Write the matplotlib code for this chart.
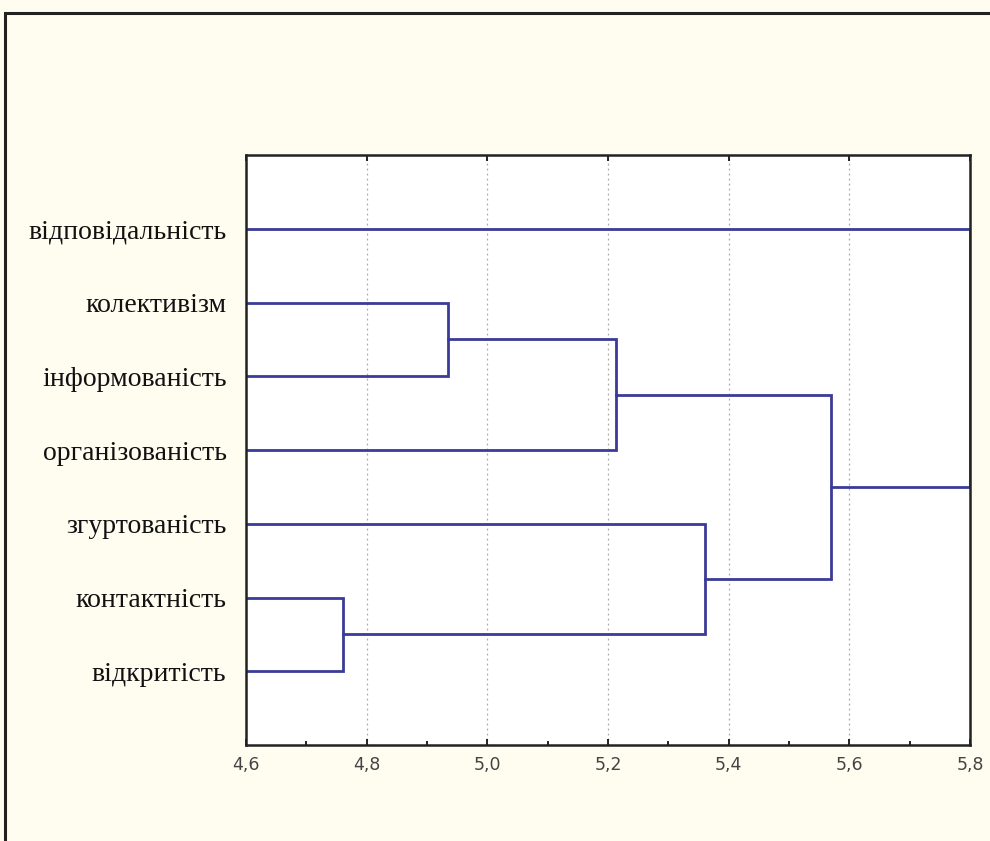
import matplotlib.pyplot as plt
from matplotlib.patches import Rectangle
from matplotlib.ticker import MultipleLocator, FuncFormatter

# leaves, top to bottom
labels = ['відповідальність', 'колективізм', 'інформованість', 'організованість',
          'згуртованість', 'контактність', 'відкритість']

# merges: (left node, right node, linkage distance)
# new nodes: 7 = (5,6), 8 = (1,2), 9 = (8,3), 10 = (4,7), 11 = (9,10), 12 = (0,11)
merges = [(5, 6, 4.76),
          (1, 2, 4.935),
          (8, 3, 5.213),
          (4, 7, 5.36),
          (9, 10, 5.57),
          (0, 11, 5.80)]

x0 = 4.6
line_col = '#3b3b98'

fig = plt.figure(figsize=(9.9, 8.41), dpi=100)
fig.patch.set_facecolor('#fffcf0')
fig.patches.append(Rectangle((5/990, -0.05), 1.05, 1 - 13/841 + 0.05, transform=fig.transFigure,
                             fill=False, edgecolor='#222222', linewidth=2.2, zorder=0))

ax = fig.add_axes([246/990, 1 - 745/841, (970 - 246)/990, (745 - 155)/841])
ax.set_facecolor('white')

# node positions: (y, height)
pos = {i: (i + 1, x0) for i in range(len(labels))}
for k, (a, b, h) in enumerate(merges):
    ya, ha = pos[a]
    yb, hb = pos[b]
    ax.plot([ha, h, h, hb], [ya, ya, yb, yb], color=line_col, lw=2.0, solid_joinstyle='miter')
    pos[len(labels) + k] = ((ya + yb) / 2, h)

ax.set_xlim(4.6, 5.8)
ax.set_ylim(len(labels) + 1, 0)
ax.set_yticks(range(1, len(labels) + 1))
ax.set_yticklabels(labels, fontfamily='Liberation Serif', fontsize=20, color='#111111')
ax.tick_params(axis='y', length=0, pad=14)

ax.xaxis.set_major_locator(MultipleLocator(0.2))
ax.xaxis.set_minor_locator(MultipleLocator(0.1))
ax.xaxis.set_major_formatter(FuncFormatter(lambda v, p: f'{v:.1f}'.replace('.', ',')))
ax.tick_params(axis='x', which='both', direction='in', top=True, labelsize=12.5,
               labelcolor='#444444', pad=8, length=4, width=1.2)
ax.tick_params(axis='x', which='minor', length=3, top=False)

ax.grid(axis='x', which='major', linestyle=(0, (1.5, 2.5)), color='#aaaaaa', lw=0.9)
for s in ax.spines.values():
    s.set_linewidth(1.8)
    s.set_color('#222222')

fig.savefig('out.png', dpi=100, facecolor=fig.get_facecolor())
